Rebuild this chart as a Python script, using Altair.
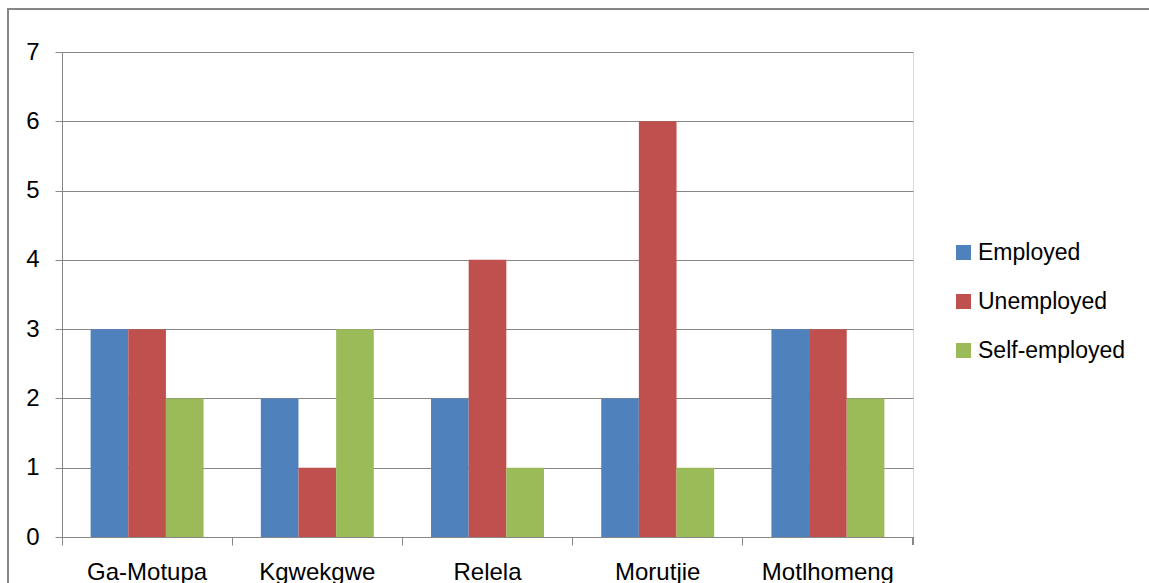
import altair as alt
import pandas as pd

villages = ["Ga-Motupa", "Kgwekgwe", "Relela", "Morutjie", "Motlhomeng"]
series = ["Employed", "Unemployed", "Self-employed"]
employed = [3, 2, 2, 2, 3]
unemployed = [3, 1, 4, 6, 3]
self_employed = [2, 3, 1, 1, 2]
colors = ["#4F81BD", "#C0504D", "#9BBB59"]

rows = []
for i, v in enumerate(villages):
    for s, vals in zip(series, [employed, unemployed, self_employed]):
        rows.append({"village": v, "status": s, "count": vals[i]})
df = pd.DataFrame(rows)

W, H = 851, 485
FONT = "Liberation Sans"
GRAY = "#878787"

bars = alt.Chart(df).mark_bar().encode(
    x=alt.X("village:N", sort=villages, title=None,
            scale=alt.Scale(paddingInner=0, paddingOuter=0),
            axis=alt.Axis(labelAngle=0, bandPosition=0, tickSize=8, tickColor=GRAY,
                          domainColor=GRAY, labelFontSize=24, labelFont=FONT,
                          labelColor="#000000", labelPadding=15, grid=False)),
    xOffset=alt.XOffset("status:N", sort=series,
                        scale=alt.Scale(paddingInner=0, paddingOuter=0.76)),
    y=alt.Y("count:Q", title=None,
            scale=alt.Scale(domain=[0, 7], nice=False),
            axis=alt.Axis(values=[0, 1, 2, 3, 4, 5, 6, 7], tickSize=7, tickColor=GRAY,
                          domainColor=GRAY, gridColor=GRAY, grid=True,
                          labelFontSize=24, labelFont=FONT, labelColor="#000000",
                          labelPadding=16)),
    color=alt.Color("status:N", sort=series,
                    scale=alt.Scale(domain=series, range=colors),
                    legend=alt.Legend(title=None, orient="none", legendX=890, legendY=189,
                                      symbolType="square", symbolSize=225,
                                      symbolStrokeWidth=0, labelFontSize=23,
                                      labelFont=FONT, labelColor="#000000",
                                      labelOffset=3, rowPadding=25)),
)

end_tick = alt.Chart(df).mark_rule(color=GRAY).encode(
    x=alt.value(W), y=alt.value(H), y2=alt.value(H + 8)
)

frame = alt.Chart(df).mark_rect(fill=None, stroke=GRAY, strokeWidth=1.5).encode(
    x=alt.value(-54), x2=alt.value(1150), y=alt.value(-43), y2=alt.value(700)
)

chart = alt.layer(frame, bars, end_tick).properties(
    width=W, height=H,
    autosize=alt.AutoSizeParams(type="none"),
    padding={"left": 62, "top": 52, "right": 236, "bottom": 46},
).configure_view(stroke=None).configure(background="#ffffff")

chart.save("out.html", embed_options={"renderer": "svg", "actions": False})
